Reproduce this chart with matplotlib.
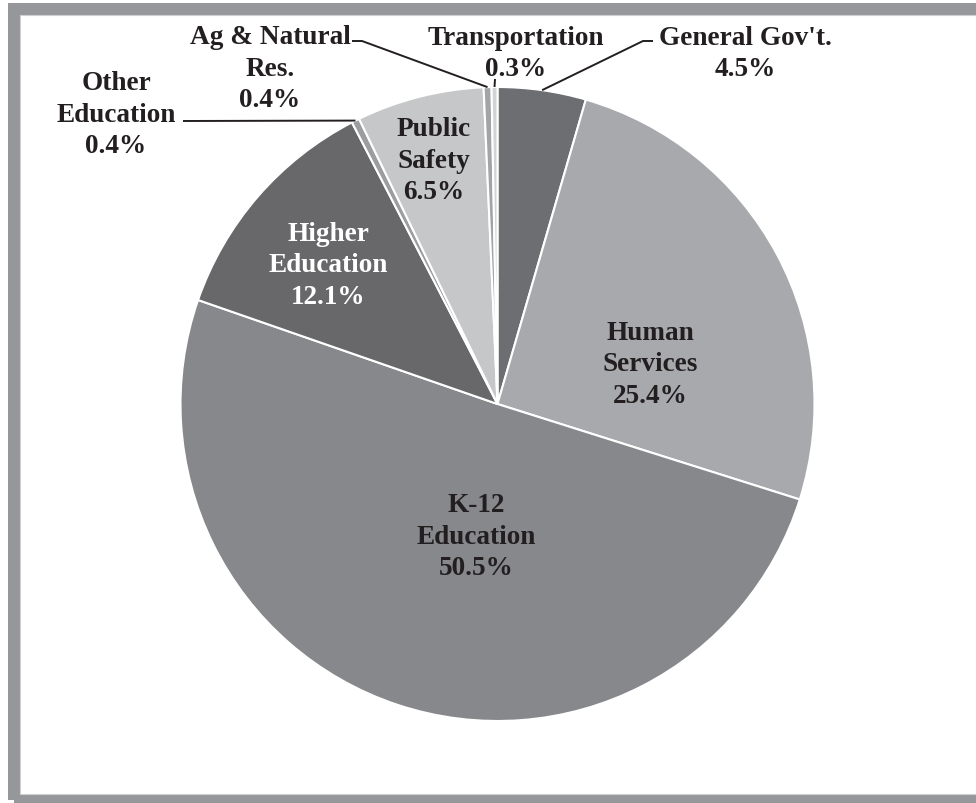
import numpy as np
import matplotlib.pyplot as plt
from matplotlib.patches import Rectangle

W, H = 976, 804

# Data (clockwise from 12 o'clock)
categories = ["General Gov't.", "Human\nServices", "K-12\nEducation", "Higher\nEducation",
              "Other\nEducation", "Public\nSafety", "Ag & Natural\nRes.", "Transportation"]
shares = [4.5, 25.4, 50.5, 12.1, 0.4, 6.5, 0.4, 0.3]
colors = ["#6d6e71", "#a8a9ac", "#87888b", "#68686b", "#9c9da0", "#c6c7c9", "#a3a4a7", "#d2d3d5"]
text_colors = ["#231f20", "#231f20", "#231f20", "white", "#231f20", "#231f20", "#231f20", "#231f20"]

# label centres in pixel coords (x, y from top)
label_pos = [(745, 54), (650, 365), (476, 537), (328, 266),
             (116, 115), (434, 161), (270, 69), (516, 54)]
# leader line elbows (None = label sits inside the wedge)
elbows = [[(643, 42), (653, 42)], None, None, None,
          [(183, 122)], None, [(362, 42), (352, 42)], [(495, 80)]]

CX, CY, R = 497.5, 405, 317

fig = plt.figure(figsize=(W / 100, H / 100), dpi=100)
ax = fig.add_axes([0, 0, 1, 1])

wedges, _ = ax.pie(shares, colors=colors, startangle=90, counterclock=False,
                   radius=R, center=(CX, H - CY),
                   wedgeprops=dict(edgecolor="white", linewidth=1.5))
ax.set_xlim(0, W)
ax.set_ylim(0, H)
ax.set_aspect("equal")
ax.axis("off")

font = dict(family="Liberation Serif", fontweight="bold", fontsize=19.6)
for i, w in enumerate(wedges):
    lx, ly = label_pos[i]
    txt = f"{categories[i]}\n{shares[i]:.1f}%"
    ax.text(lx, H - ly, txt, ha="center", va="center", color=text_colors[i],
            linespacing=1.32, **font)
    if elbows[i] is not None:
        mid = np.deg2rad((w.theta1 + w.theta2) / 2)
        ex, ey = CX + R * np.cos(mid), (H - CY) + R * np.sin(mid)
        pts = [(ex, ey)] + [(px, H - py) for px, py in elbows[i]]
        xs, ys = zip(*pts)
        ax.plot(xs, ys, color="#231f20", lw=1.4, solid_capstyle="butt")

# grey frame (right edge runs off the image)
ax.add_patch(Rectangle((14, 3), 980, H - 13, fill=False, edgecolor="#96979b",
                       lw=12 * 0.72, zorder=5))
ax.add_patch(Rectangle((20, 9), 980, H - 25, fill=False, edgecolor="#cfcfd1",
                       lw=0.8, zorder=6))

fig.savefig("out.png", dpi=100)
